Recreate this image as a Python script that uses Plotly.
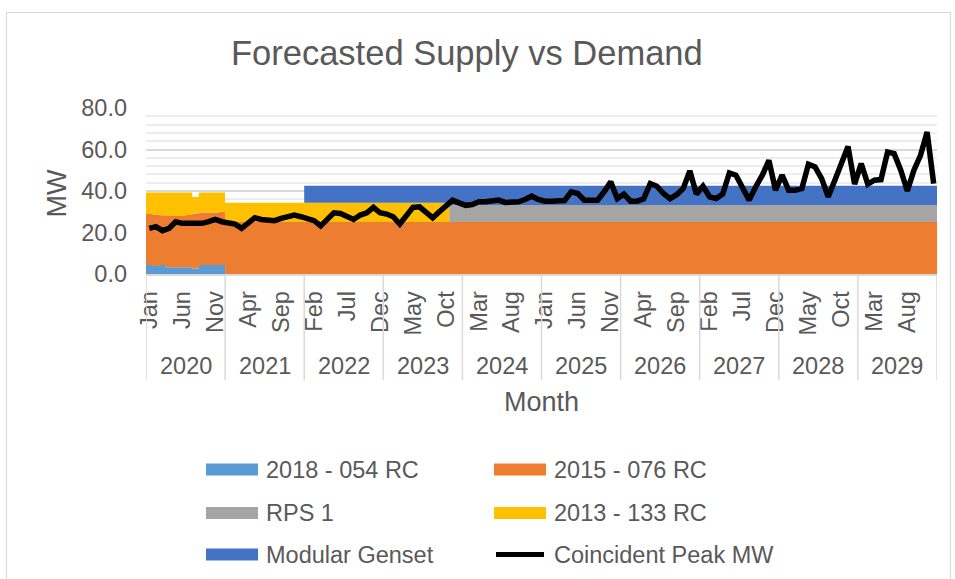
import plotly.graph_objects as go

# ---------------- data ----------------
YEARS = ["2020", "2021", "2022", "2023", "2024", "2025", "2026", "2027", "2028", "2029"]
MONTH_TICKS = ["Jan", "Jun", "Nov", "Apr", "Sep", "Feb", "Jul", "Dec", "May", "Oct",
               "Mar", "Aug", "Jan", "Jun", "Nov", "Apr", "Sep", "Feb", "Jul", "Dec",
               "May", "Oct", "Mar", "Aug"]

RC_2018_054 = [
    4.3, 3.8, 4.3, 3.2, 3.2, 3.2, 3.2, 2.7, 4.3, 4.3, 4.3, 4.3,
    0, 0, 0, 0, 0, 0, 0, 0, 0, 0, 0, 0,
    0, 0, 0, 0, 0, 0, 0, 0, 0, 0, 0, 0,
    0, 0, 0, 0, 0, 0, 0, 0, 0, 0, 0, 0,
    0, 0, 0, 0, 0, 0, 0, 0, 0, 0, 0, 0,
    0, 0, 0, 0, 0, 0, 0, 0, 0, 0, 0, 0,
    0, 0, 0, 0, 0, 0, 0, 0, 0, 0, 0, 0,
    0, 0, 0, 0, 0, 0, 0, 0, 0, 0, 0, 0,
    0, 0, 0, 0, 0, 0, 0, 0, 0, 0, 0, 0,
    0, 0, 0, 0, 0, 0, 0, 0, 0, 0, 0, 0,
]
RC_2015_076 = [
    24.6, 24.8, 24.0, 24.8, 24.8, 24.8, 25.2, 26.5, 25.3, 25.3, 25.3, 25.7,
    25.1, 25.1, 25.1, 25.1, 25.1, 25.1, 25.1, 25.1, 25.1, 25.1, 25.1, 25.1,
    25.1, 25.1, 25.1, 25.1, 25.1, 25.1, 25.1, 25.1, 25.1, 25.1, 25.1, 25.1,
    25.1, 25.1, 25.1, 25.1, 25.1, 25.1, 25.1, 25.1, 25.1, 25.1, 25.1, 25.1,
    25.1, 25.1, 25.1, 25.1, 25.1, 25.1, 25.1, 25.1, 25.1, 25.1, 25.1, 25.1,
    25.1, 25.1, 25.1, 25.1, 25.1, 25.1, 25.1, 25.1, 25.1, 25.1, 25.1, 25.1,
    25.1, 25.1, 25.1, 25.1, 25.1, 25.1, 25.1, 25.1, 25.1, 25.1, 25.1, 25.1,
    25.1, 25.1, 25.1, 25.1, 25.1, 25.1, 25.1, 25.1, 25.1, 25.1, 25.1, 25.1,
    25.1, 25.1, 25.1, 25.1, 25.1, 25.1, 25.1, 25.1, 25.1, 25.1, 25.1, 25.1,
    25.1, 25.1, 25.1, 25.1, 25.1, 25.1, 25.1, 25.1, 25.1, 25.1, 25.1, 25.1,
]
RPS_1 = [
    0, 0, 0, 0, 0, 0, 0, 0, 0, 0, 0, 0,
    0, 0, 0, 0, 0, 0, 0, 0, 0, 0, 0, 0,
    0, 0, 0, 0, 0, 0, 0, 0, 0, 0, 0, 0,
    0, 0, 0, 0, 0, 0, 0, 0, 0, 0, 8.1, 8.1,
    8.1, 8.1, 8.1, 8.1, 8.1, 8.1, 8.1, 8.1, 8.1, 8.1, 8.1, 8.1,
    8.1, 8.1, 8.1, 8.1, 8.1, 8.1, 8.1, 8.1, 8.1, 8.1, 8.1, 8.1,
    8.1, 8.1, 8.1, 8.1, 8.1, 8.1, 8.1, 8.1, 8.1, 8.1, 8.1, 8.1,
    8.1, 8.1, 8.1, 8.1, 8.1, 8.1, 8.1, 8.1, 8.1, 8.1, 8.1, 8.1,
    8.1, 8.1, 8.1, 8.1, 8.1, 8.1, 8.1, 8.1, 8.1, 8.1, 8.1, 8.1,
    8.1, 8.1, 8.1, 8.1, 8.1, 8.1, 8.1, 8.1, 8.1, 8.1, 8.1, 8.1,
]
RC_2013_133 = [
    10.4, 10.7, 11.0, 11.3, 11.3, 11.3, 10.9, 7.9, 9.7, 9.7, 9.7, 9.3,
    9.2, 9.2, 9.2, 9.2, 9.2, 9.2, 9.2, 9.2, 9.2, 9.2, 9.2, 9.2,
    9.2, 9.2, 9.2, 9.2, 9.2, 9.2, 9.2, 9.2, 9.2, 9.2, 9.2, 9.2,
    9.2, 9.2, 9.2, 9.2, 9.2, 9.2, 9.2, 9.2, 9.2, 9.2, 0, 0,
    0, 0, 0, 0, 0, 0, 0, 0, 0, 0, 0, 0,
    0, 0, 0, 0, 0, 0, 0, 0, 0, 0, 0, 0,
    0, 0, 0, 0, 0, 0, 0, 0, 0, 0, 0, 0,
    0, 0, 0, 0, 0, 0, 0, 0, 0, 0, 0, 0,
    0, 0, 0, 0, 0, 0, 0, 0, 0, 0, 0, 0,
    0, 0, 0, 0, 0, 0, 0, 0, 0, 0, 0, 0,
]
MODULAR_GENSET = [
    0, 0, 0, 0, 0, 0, 0, 0, 0, 0, 0, 0,
    0, 0, 0, 0, 0, 0, 0, 0, 0, 0, 0, 0,
    8.2, 8.2, 8.2, 8.2, 8.2, 8.2, 8.2, 8.2, 8.2, 8.2, 8.2, 8.2,
    8.2, 8.2, 8.2, 8.2, 8.2, 8.2, 8.2, 8.2, 8.2, 8.2, 9.3, 9.3,
    9.3, 9.3, 9.3, 9.3, 9.3, 9.3, 9.3, 9.3, 9.3, 9.3, 9.3, 9.3,
    9.3, 9.3, 9.3, 9.3, 9.3, 9.3, 9.3, 9.3, 9.3, 9.3, 9.3, 9.3,
    9.3, 9.3, 9.3, 9.3, 9.3, 9.3, 9.3, 9.3, 9.3, 9.3, 9.3, 9.3,
    9.3, 9.3, 9.3, 9.3, 9.3, 9.3, 9.3, 9.3, 9.3, 9.3, 9.3, 9.3,
    9.3, 9.3, 9.3, 9.3, 9.3, 9.3, 9.3, 9.3, 9.3, 9.3, 9.3, 9.3,
    9.3, 9.3, 9.3, 9.3, 9.3, 9.3, 9.3, 9.3, 9.3, 9.3, 9.3, 9.3,
]
COINCIDENT_PEAK = [
    22.0, 22.8, 20.9, 22.0, 25.2, 24.4, 24.4, 24.4, 24.4, 25.2, 26.3, 25.2,
    24.4, 24.1, 22.0, 24.4, 27.1, 26.3, 25.7, 25.7, 26.8, 27.6, 28.4, 27.6,
    26.8, 25.7, 23.2, 26.8, 29.5, 29.2, 27.6, 26.3, 28.4, 29.5, 32.1, 29.5,
    28.9, 27.6, 24.1, 28.4, 32.1, 32.4, 30.0, 27.1, 30.0, 32.7, 35.6, 34.3,
    33.1, 33.5, 34.8, 34.8, 35.3, 35.6, 34.5, 34.5, 34.8, 35.9, 37.5, 35.9,
    35.1, 35.1, 35.1, 35.4, 39.6, 38.8, 35.6, 35.6, 35.6, 39.6, 44.4, 36.4,
    38.5, 35.1, 35.1, 36.2, 43.6, 42.3, 38.8, 36.3, 38.2, 41.2, 49.7, 38.5,
    42.3, 37.2, 36.4, 38.5, 48.7, 47.6, 41.2, 35.6, 42.0, 47.6, 54.8, 40.4,
    47.6, 40.4, 40.4, 41.2, 52.9, 51.6, 46.0, 37.2, 45.2, 53.2, 61.5, 43.3,
    53.2, 43.3, 45.2, 45.5, 58.8, 58.0, 50.0, 40.1, 50.0, 57.2, 68.4, 43.6,
]

SERIES = [
    ("2018 - 054 RC", RC_2018_054, "#5B9BD5"),
    ("2015 - 076 RC", RC_2015_076, "#ED7D31"),
    ("RPS 1", RPS_1, "#A5A5A5"),
    ("2013 - 133 RC", RC_2013_133, "#FFC000"),
    ("Modular Genset", MODULAR_GENSET, "#4472C4"),
]

# ---------------- layout geometry (pixels) ----------------
W, H = 955, 579
PL, PR, PT, PB = 146, 937, 108, 274  # plot area
PW, PH = PR - PL, PB - PT
TXT = "#595959"
FONT = "Liberation Sans, Arial, sans-serif"


def px(X):
    return (X - PL) / PW


def py(Y):
    return (PB - Y) / PH


n = len(COINCIDENT_PEAK)
month_idx = list(range(n))
edges = [i - 0.5 for i in range(n + 1)]

fig = go.Figure()
for name, vals, col in SERIES:
    fig.add_trace(go.Scatter(
        x=edges, y=list(vals) + [vals[-1]], name=name, mode="lines",
        stackgroup="supply", line=dict(width=0, shape="hv", color=col),
        fillcolor=col, showlegend=False, hoverinfo="skip"))

fig.add_trace(go.Scatter(
    x=month_idx, y=COINCIDENT_PEAK, name="Coincident Peak MW", mode="lines",
    line=dict(color="black", width=5.5), showlegend=False))

shapes = []
annotations = []

# year dividers and year labels
for k, yr in enumerate(YEARS):
    shapes.append(dict(type="line", xref="x", yref="paper", x0=12 * k - 0.5, x1=12 * k - 0.5,
                       y0=0, y1=py(380), line=dict(color="#D9D9D9", width=1.5)))
    annotations.append(dict(text=yr, xref="x", yref="paper", x=12 * k + 5.5, y=py(366),
                            showarrow=False, xanchor="center", yanchor="middle",
                            font=dict(size=23.5, color=TXT, family=FONT)))
shapes.append(dict(type="line", xref="x", yref="paper", x0=12 * len(YEARS) - 0.5,
                   x1=12 * len(YEARS) - 0.5, y0=0, y1=py(380),
                   line=dict(color="#D9D9D9", width=1.5)))

# chart border
shapes.append(dict(type="rect", xref="paper", yref="paper", x0=px(6.5), x1=px(950.5),
                   y0=py(590), y1=py(12.5), line=dict(color="#D9D9D9", width=1.2),
                   fillcolor="rgba(0,0,0,0)", layer="below"))

# titles
annotations.append(dict(text="Forecasted Supply vs Demand", xref="paper", yref="paper",
                        x=px(467), y=py(53), showarrow=False, xanchor="center", yanchor="middle",
                        font=dict(size=34.5, color=TXT, family=FONT)))
annotations.append(dict(text="MW", xref="paper", yref="paper", x=px(56), y=py(193.5),
                        showarrow=False, textangle=-90, xanchor="center", yanchor="middle",
                        font=dict(size=27, color=TXT, family=FONT)))
annotations.append(dict(text="Month", xref="paper", yref="paper", x=px(541), y=py(402),
                        showarrow=False, xanchor="center", yanchor="middle",
                        font=dict(size=27, color=TXT, family=FONT)))

# manual legend
legend_items = [
    ("2018 - 054 RC", "#5B9BD5", 206, 469.5, "rect"),
    ("2015 - 076 RC", "#ED7D31", 494, 469.5, "rect"),
    ("RPS 1", "#A5A5A5", 206, 513, "rect"),
    ("2013 - 133 RC", "#FFC000", 494, 513, "rect"),
    ("Modular Genset", "#4472C4", 206, 554.5, "rect"),
    ("Coincident Peak MW", "black", 494, 554.5, "line"),
]
for label, col, X, Y, kind in legend_items:
    if kind == "rect":
        shapes.append(dict(type="rect", xref="paper", yref="paper", x0=px(X), x1=px(X + 52),
                           y0=py(Y + 6), y1=py(Y - 6), fillcolor=col, line=dict(width=0)))
    else:
        shapes.append(dict(type="line", xref="paper", yref="paper", x0=px(X + 2), x1=px(X + 50),
                           y0=py(Y), y1=py(Y), line=dict(color=col, width=5)))
    annotations.append(dict(text=label, xref="paper", yref="paper", x=px(X + 58), y=py(Y),
                            showarrow=False, xanchor="left", yanchor="middle",
                            font=dict(size=23.5, color=TXT, family=FONT)))

fig.update_layout(
    width=W, height=H,
    margin=dict(l=PL, r=W - PR, t=PT, b=H - PB, pad=0),
    paper_bgcolor="white", plot_bgcolor="white",
    font=dict(family=FONT, color=TXT),
    showlegend=False,
    shapes=shapes, annotations=annotations,
    xaxis=dict(range=[-0.5, n - 0.5], tickmode="array",
               tickvals=[5 * i for i in range(len(MONTH_TICKS))], ticktext=MONTH_TICKS,
               tickangle=-90, tickfont=dict(size=23.5, color=TXT, family=FONT),
               showgrid=False, zeroline=False, showline=True, linecolor="#D9D9D9", linewidth=1.5,
               ticks="", ticklabelstandoff=6, fixedrange=True),
    yaxis=dict(range=[0, 80], tickmode="linear", tick0=0, dtick=20, tickformat=".1f",
               tickfont=dict(size=23.5, color=TXT, family=FONT),
               showgrid=True, gridcolor="#D9D9D9", gridwidth=1.5,
               minor=dict(dtick=4, showgrid=True, gridcolor="#EDEDED", gridwidth=1.5),
               zeroline=False, showline=False, ticks="", ticklabelstandoff=18, fixedrange=True),
)

fig.write_html("out.html", config={"displayModeBar": False},
               post_script="document.body.style.margin='0';")
